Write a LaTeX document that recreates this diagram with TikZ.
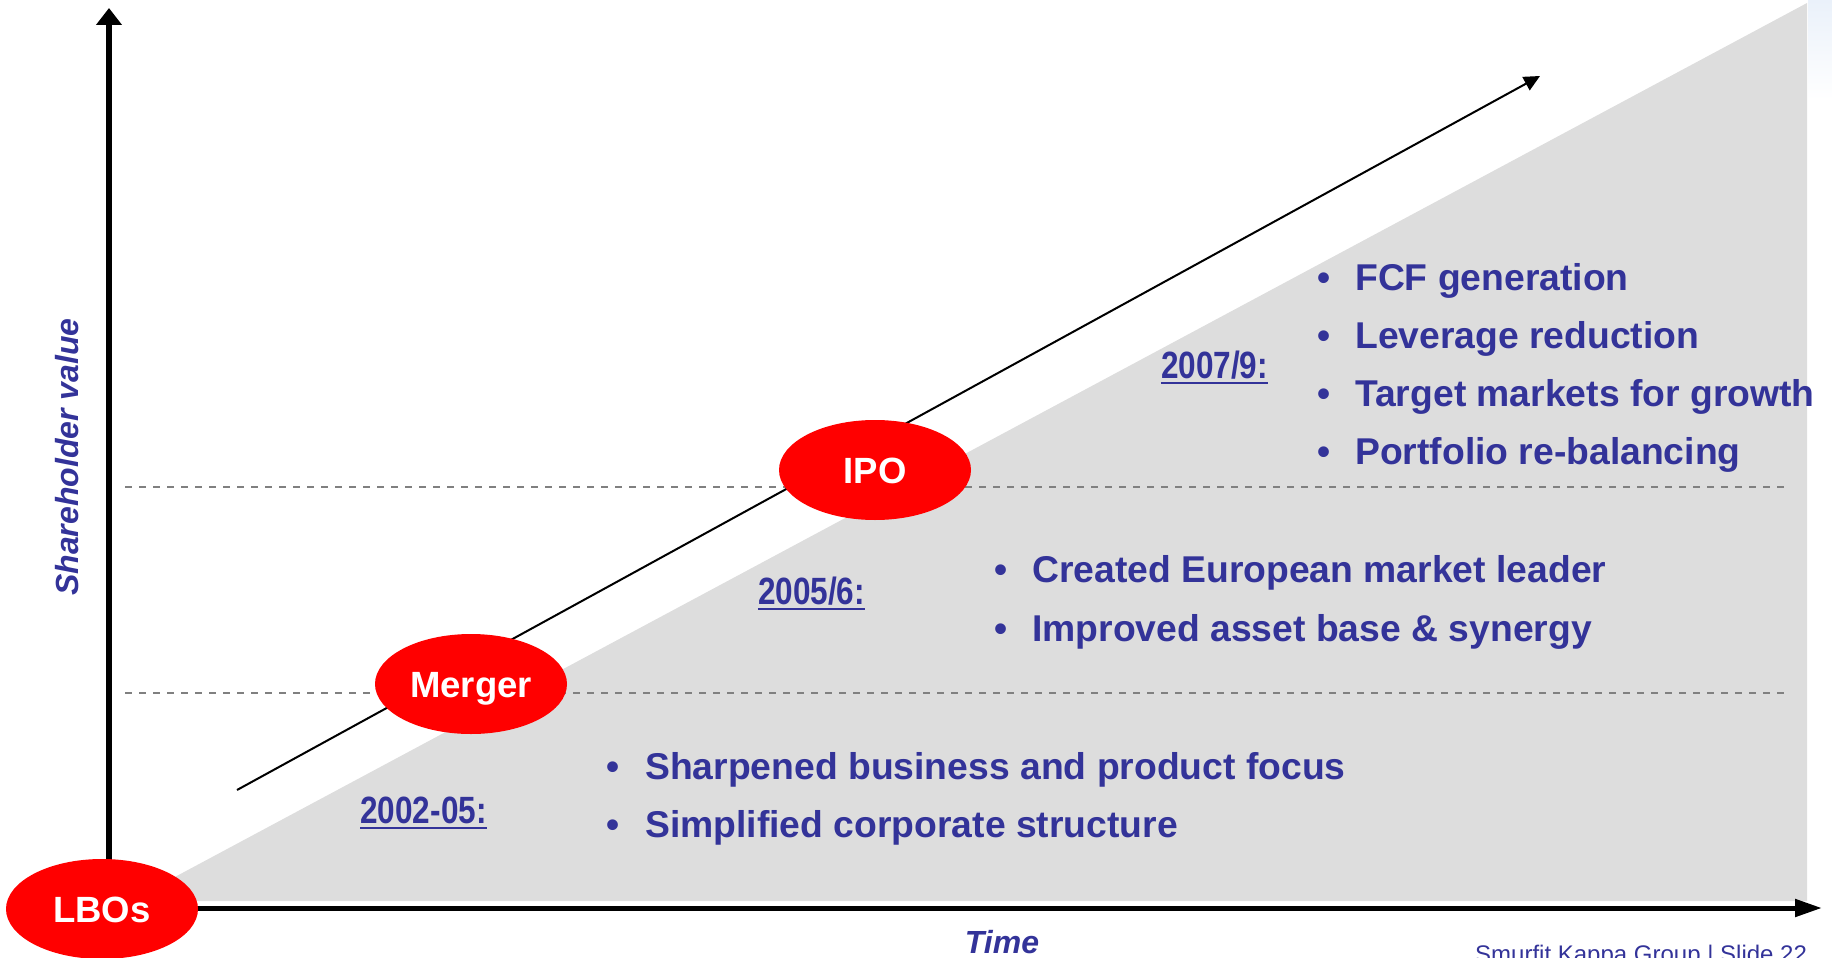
\documentclass[tikz,border=0pt]{standalone}
\usepackage{fontspec}
\setmainfont{Liberation Sans}
\usetikzlibrary{arrows.meta,shapes.geometric,calc}
\definecolor{txtblue}{RGB}{51,51,153}
\definecolor{wedge}{RGB}{221,221,221}
\definecolor{dashgray}{RGB}{128,128,128}
\definecolor{haze}{RGB}{234,241,250}
\begin{document}
\begin{tikzpicture}[x=1pt,y=-1pt,
  milestone/.style={ellipse,fill=red,draw=none,inner sep=0pt,
    minimum width=192pt,minimum height=100pt,text=white,
    text height=26pt,text depth=0pt,
    font=\bfseries\fontsize{36.5}{42}\selectfont},
  yearlbl/.style={anchor=base,inner sep=0pt,text=txtblue,
    font=\bfseries\fontsize{38}{44}\selectfont},
  bulletdot/.style={anchor=base,inner sep=0pt,text=txtblue,
    font=\bfseries\fontsize{37.3}{44}\selectfont},
  bullettxt/.style={anchor=base west,inner sep=0pt,text=txtblue,
    font=\bfseries\fontsize{37.3}{44}\selectfont},
  axislbl/.style={inner sep=0pt,text=txtblue,
    font=\bfseries\itshape\fontsize{32}{38}\selectfont},
  level/.style={draw=dashgray,line width=1.8pt,dash pattern=on 7pt off 7pt},
  ulinestyle/.style={draw=txtblue,line width=2.5pt}
]
\useasboundingbox (0,0) rectangle (1832,958);
\clip (0,0) rectangle (1832,958);

% faint decoration in the top right corner
\shade[top color=haze,bottom color=white] (1808,0) rectangle (1832,100);

% grey value wedge
\fill[wedge] (130,901) -- (1807,3) -- (1807,901) -- cycle;

% dashed phase boundaries
\coordinate (lvlAstart) at (125,487);
\coordinate (lvlAend) at (1785,487);
\coordinate (lvlBstart) at (125,693);
\coordinate (lvlBend) at (1785,693);
\draw[level] (lvlAstart) -- (lvlAend);
\draw[level] (lvlBstart) -- (lvlBend);

% trend arrow
\coordinate (trendstart) at (237,790);
\coordinate (trendend) at (1540,76);
\draw[line width=2pt,-{Triangle[length=16pt,width=15pt]}] (trendstart) -- (trendend);

% axes
\coordinate (origin) at (109,908);
\coordinate (ytop) at (109,8);
\coordinate (xend) at (1822,908);
\draw[line width=6.5pt,-{Triangle[length=17pt,width=25pt]}] ($(origin)+(0,-30)$) coordinate (ybase) -- (ytop);
\draw[line width=5pt,-{Triangle[length=27pt,width=17pt]}] (origin) -- (xend);

% milestones
\node[milestone] (lbo) at (102,909) {LBOs};
\node[milestone] (merger) at (471,684) {Merger};
\node[milestone] (ipo) at (875,470) {IPO};

% axis labels
\node[axislbl,rotate=90] (yl) at (67,457) {Shareholder value};
\node[axislbl,anchor=base] (xl) at (1002,953) {Time};

% phase years
\node[yearlbl] (y3) at (1214.5,378) {\scalebox{0.83}[1]{2007/9:}};
\node[yearlbl] (y2) at (811.5,604) {\scalebox{0.83}[1]{2005/6:}};
\node[yearlbl] (y1) at (423.5,823) {\scalebox{0.83}[1]{2002-05:}};
\draw[ulinestyle] ($(y3.base west)+(0,5)$) -- ($(y3.base east)+(0,5)$);
\draw[ulinestyle] ($(y2.base west)+(0,5)$) -- ($(y2.base east)+(0,5)$);
\draw[ulinestyle] ($(y1.base west)+(0,5)$) -- ($(y1.base east)+(0,5)$);

% 2007/9 bullets
\node[bulletdot] (b31) at (1324,290) {•};
\node[bullettxt] (t31) at (1355,290) {FCF generation};
\node[bulletdot] (b32) at (1324,348) {•};
\node[bullettxt] (t32) at (1355,348) {Leverage reduction};
\node[bulletdot] (b33) at (1324,406) {•};
\node[bullettxt] (t33) at (1355,406) {Target markets for growth};
\node[bulletdot] (b34) at (1324,464) {•};
\node[bullettxt] (t34) at (1355,464) {Portfolio re-balancing};

% 2005/6 bullets
\node[bulletdot] (b21) at (1001,582) {•};
\node[bullettxt] (t21) at (1032,582) {Created European market leader};
\node[bulletdot] (b22) at (1001,641) {•};
\node[bullettxt] (t22) at (1032,641) {Improved asset base \& synergy};

% 2002-05 bullets
\node[bulletdot] (b11) at (613,779) {•};
\node[bullettxt] (t11) at (645,779) {Sharpened business and product focus};
\node[bulletdot] (b12) at (613,837) {•};
\node[bullettxt] (t12) at (645,837) {Simplified corporate structure};

% footer
\node[anchor=base west,inner sep=0pt,text=txtblue,font=\fontsize{24}{28}\selectfont] (footer) at (1475,962) {Smurfit Kappa Group | Slide 22};
\end{tikzpicture}
\end{document}
